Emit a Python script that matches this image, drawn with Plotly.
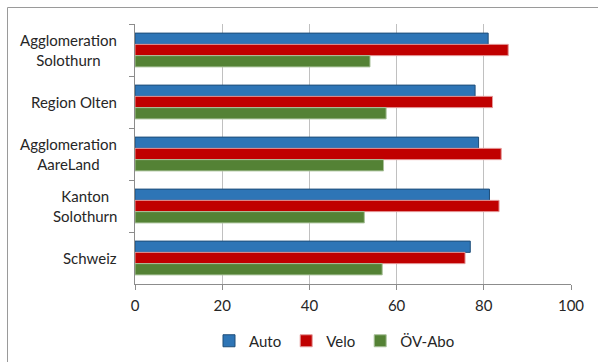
import plotly.graph_objects as go

# Regions shown on the category axis (top to bottom)
regions = ["Agglomeration<br>Solothurn", "Region Olten", "Agglomeration<br>AareLand",
           "Kanton<br>Solothurn", "Schweiz"]
region_keys = ["Agglomeration Solothurn", "Region Olten", "Agglomeration AareLand",
               "Kanton Solothurn", "Schweiz"]

# Share of households (%) per mobility tool
auto = [81.0, 78.0, 78.8, 81.3, 76.9]
velo = [85.6, 82.0, 84.0, 83.5, 75.7]
oev_abo = [53.9, 57.6, 57.0, 52.6, 56.7]

x_ticks = [0, 20, 40, 60, 80, 100]

W, H = 598, 362
ML, MR, MT, MB = 135, 27, 24, 78
FONT = "Lato, 'Open Sans', sans-serif"
TXT = "#262626"
FS = 15

fig = go.Figure()
series = [
    ("Auto", auto, "#2e75b6", "#1f4e79"),
    ("Velo", velo, "#c00000", "#e59a9a"),
    ("ÖV-Abo", oev_abo, "#548235", "#a9c19a"),
]
for name, vals, fill, edge in series:
    fig.add_trace(go.Bar(
        name=name, y=region_keys, x=vals, orientation="h",
        marker=dict(color=fill, line=dict(color=edge, width=1)),
    ))

# Two-line category labels, centred within their own block
for key, label in zip(region_keys, regions):
    fig.add_annotation(
        x=0, xref="paper", xanchor="right", xshift=-16,
        y=key, yref="y", yanchor="middle",
        text=label, showarrow=False, align="center",
        font=dict(family=FONT, size=FS, color=TXT),
    )

# Chart frame
px = lambda v: (v - ML) / (W - ML - MR)
py = lambda v: 1 - (v - MT) / (H - MT - MB)
fig.add_shape(type="rect", xref="paper", yref="paper",
              x0=px(7.5), x1=px(620), y0=py(7.5), y1=py(380),
              line=dict(color="#9a9a9a", width=1), layer="below")

fig.update_layout(
    width=W, height=H,
    margin=dict(l=ML, r=MR, t=MT, b=MB, autoexpand=False),
    paper_bgcolor="white", plot_bgcolor="white",
    barmode="group", bargap=0.35, bargroupgap=0,
    font=dict(family=FONT, size=FS, color=TXT),
    legend=dict(orientation="h", x=209 / W, xref="container", xanchor="left",
                y=1 - 341 / H, yref="container", yanchor="middle",
                font=dict(family=FONT, size=FS, color=TXT),
                traceorder="normal"),
    showlegend=True,
)
fig.update_xaxes(
    range=[0, 100], tickvals=x_ticks, ticktext=[str(v) for v in x_ticks],
    showgrid=True, gridcolor="#c0c0c0", gridwidth=1,
    showline=True, linecolor="#8c8c8c", linewidth=1,
    ticks="outside", ticklen=5, tickcolor="#8c8c8c", ticklabelstandoff=3,
    zeroline=False, tickfont=dict(family=FONT, size=FS, color=TXT),
)
fig.update_yaxes(
    autorange="reversed", showticklabels=False,
    showline=True, linecolor="#8c8c8c", linewidth=1,
    ticks="outside", ticklen=5, tickcolor="#8c8c8c", tickson="boundaries",
    showgrid=False,
)

fig.write_html("out.html")
